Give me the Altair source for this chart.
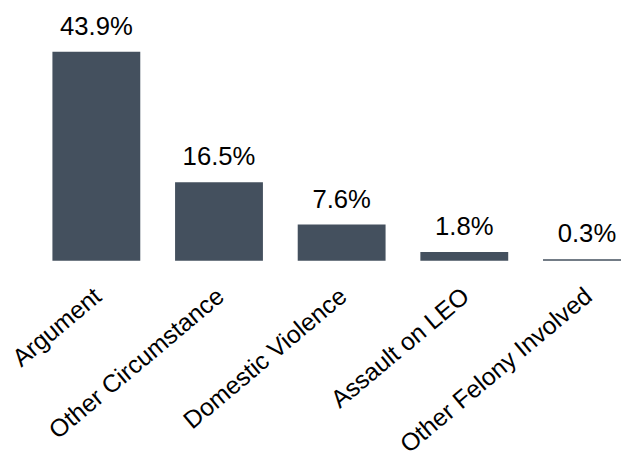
import altair as alt
import pandas as pd

categories = ["Argument", "Other Circumstance", "Domestic Violence", "Assault on LEO", "Other Felony Involved"]
values = [43.9, 16.5, 7.6, 1.8, 0.3]
labels = ["43.9%", "16.5%", "7.6%", "1.8%", "0.3%"]

df = pd.DataFrame({"cat": categories, "val": values, "lab": labels})

x = alt.X("cat:N", sort=categories, title=None,
          scale=alt.Scale(range=[37, 623], paddingInner=0.2837, paddingOuter=0),
          axis=alt.Axis(labelAngle=-40, labelFontSize=25, labelFont="Liberation Sans",
                        labelColor="#000000", ticks=False, tickSize=0, domain=False,
                        labelPadding=23, labelOffset=-6, labelLimit=400, labelOverlap=False))
y = alt.Y("val:Q", scale=alt.Scale(domain=[0, 52.5]), axis=None)

bars = alt.Chart(df).mark_bar(color="#44505E").encode(x=x, y=y)
text = alt.Chart(df).mark_text(fontSize=26, font="Liberation Sans", color="#000000",
                               baseline="alphabetic", dy=-17).encode(x=x, y=y, text="lab:N")

chart = (bars + text).properties(
    width=613, height=253,
    autosize=alt.AutoSizeParams(type="none"),
    padding={"left": 8, "top": 0, "right": 0, "bottom": 200},
).configure(background="white").configure_view(stroke=None)

chart.save("out.html", embed_options={"renderer": "svg", "actions": False})
